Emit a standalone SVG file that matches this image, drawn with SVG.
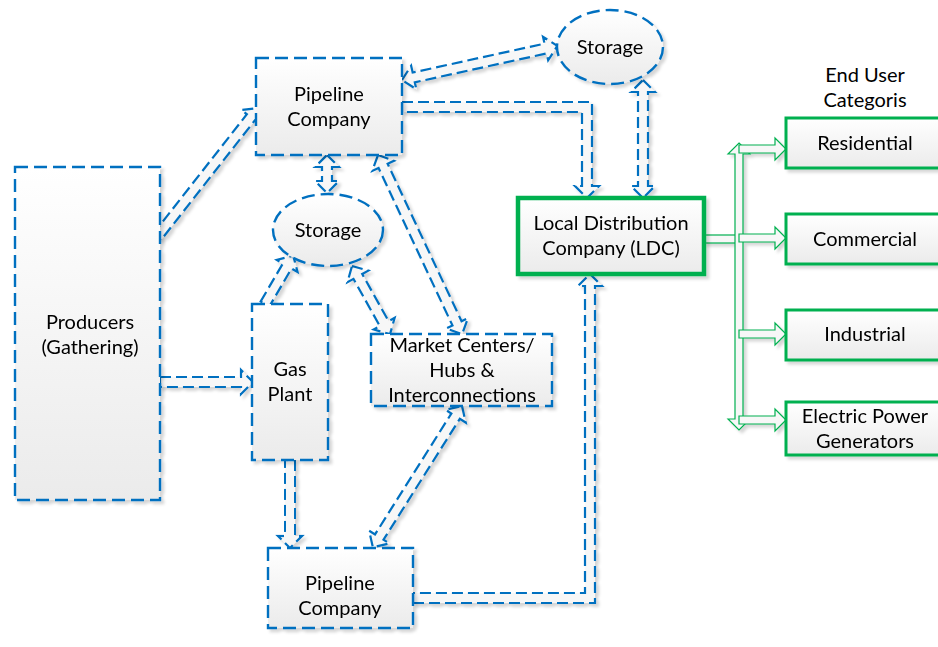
<svg xmlns="http://www.w3.org/2000/svg" width="938" height="647" viewBox="0 0 938 647">
<defs>
<linearGradient id="g" x1="0" y1="0" x2="0" y2="1">
<stop offset="0" stop-color="#ffffff"/>
<stop offset="1" stop-color="#ebebeb"/>
</linearGradient>
<filter id="sh" x="-10%" y="-10%" width="130%" height="130%">
<feDropShadow dx="3" dy="3" stdDeviation="1.5" flood-color="#000" flood-opacity="0.16"/>
</filter>
<style>
.n{fill:url(#g);stroke:#0070c0;stroke-width:2.4;stroke-dasharray:13 6;}
.gn{fill:url(#g);stroke:#00b050;stroke-width:3;}
.ldc{fill:url(#g);stroke:#00b050;stroke-width:4.5;}
.a{fill:#f7f7f7;stroke:#0070c0;stroke-width:2.2;stroke-dasharray:11 5;stroke-linejoin:miter;}
.ga{fill:#f7f7f7;stroke:#00b050;stroke-width:1.2;}
text{font-family:Lato,"Open Sans","Liberation Sans",sans-serif;font-size:20px;fill:#000;text-anchor:middle;}
</style>
</defs>
<rect width="938" height="647" fill="#ffffff"/>

<g id="connectors" filter="url(#sh)">
<polygon class="a" transform="translate(157,237) rotate(-51.9)" points="0,-5 152,-5 152,-12 164,0 152,12 152,5 0,5"/>
<polygon class="a" transform="translate(160,382)" points="0,-5 81,-5 81,-12 93,0 81,12 81,5 0,5"/>
<polygon class="a" transform="translate(402,80) rotate(-12.37)" points="0,0 12,-12 12,-5 147,-5 147,-12 159,0 147,12 147,5 12,5 12,12"/>
<polygon class="a" points="402,102 592,102 592,186 599,186 587,198 575,186 582,186 582,112 402,112"/>
<polygon class="a" transform="translate(643,80) rotate(90)" points="0,0 12,-12 12,-5 106,-5 106,-12 118,0 106,12 106,5 12,5 12,12"/>
<polygon class="a" transform="translate(327,155) rotate(90)" points="0,0 12,-12 12,-5 26,-5 26,-12 38,0 26,12 26,5 12,5 12,12"/>
<polygon class="a" transform="translate(378,155) rotate(64.86)" points="0,0 12,-12 12,-5 186,-5 186,-12 198,0 186,12 186,5 12,5 12,12"/>
<polygon class="a" transform="translate(352,266) rotate(60.8)" points="0,0 12,-12 12,-5 66,-5 66,-12 78,0 66,12 66,5 12,5 12,12"/>
<polygon class="a" transform="translate(265,304) rotate(-59.7)" points="0,-5 44,-5 44,-12 56,0 44,12 44,5 0,5"/>
<polygon class="a" transform="translate(290,460) rotate(90)" points="0,-5 76,-5 76,-12 88,0 76,12 76,5 0,5"/>
<polygon class="a" transform="translate(462,406) rotate(122.26)" points="0,0 12,-12 12,-5 155,-5 155,-12 167,0 155,12 155,5 12,5 12,12"/>
<polygon class="a" points="413,603 595,603 595,286 602,286 590,274 578,286 585,286 585,593 413,593"/>
<rect class="ga" x="704" y="235" width="35" height="8"/>
<polygon class="ga" points="739,143 750,154 743,154 743,419 750,419 739,430 728,419 735,419 735,154 728,154"/>
<polygon class="ga" points="739,145 775,145 775,138 786,149 775,160 775,153 739,153"/>
<polygon class="ga" points="739,234 775,234 775,227 786,238 775,249 775,242 739,242"/>
<polygon class="ga" points="739,330 775,330 775,323 786,334 775,345 775,338 739,338"/>
<polygon class="ga" points="739,416 775,416 775,409 786,420 775,431 775,424 739,424"/>
</g>

<g id="producers" filter="url(#sh)"><rect class="n" x="15" y="167" width="145" height="333"/><text x="90" y="329">Producers</text><text x="90" y="354">(Gathering)</text></g>
<g id="pipeline-top" filter="url(#sh)"><rect class="n" x="256" y="58" width="146" height="97"/><text x="329" y="101">Pipeline</text><text x="329" y="126">Company</text></g>
<g id="storage-top" filter="url(#sh)"><ellipse class="n" cx="610" cy="47" rx="53" ry="37"/><text x="610" y="54">Storage</text></g>
<g id="storage-mid" filter="url(#sh)"><ellipse class="n" cx="328" cy="230" rx="55" ry="36"/><text x="328" y="237">Storage</text></g>
<g id="gas-plant" filter="url(#sh)"><rect class="n" x="252" y="304" width="76" height="156"/><text x="290" y="376">Gas</text><text x="290" y="401">Plant</text></g>
<g id="market-centers" filter="url(#sh)"><rect class="n" x="371" y="334" width="181" height="72"/><text x="462" y="352">Market Centers/</text><text x="462" y="377">Hubs &amp;</text><text x="462" y="402">Interconnections</text></g>
<g id="pipeline-bottom" filter="url(#sh)"><rect class="n" x="268" y="548" width="145" height="80"/><text x="340" y="590">Pipeline</text><text x="340" y="615">Company</text></g>
<g id="ldc" filter="url(#sh)"><rect class="ldc" x="518" y="198" width="186" height="76"/><text x="611" y="230">Local Distribution</text><text x="611" y="255">Company (LDC)</text></g>
<g id="end-user-label"><text x="865" y="82">End User</text><text x="865" y="107">Categoris</text></g>
<g id="residential" filter="url(#sh)"><rect class="gn" x="786" y="118" width="160" height="50"/><text x="865" y="150">Residential</text></g>
<g id="commercial" filter="url(#sh)"><rect class="gn" x="786" y="214" width="160" height="50"/><text x="865" y="246">Commercial</text></g>
<g id="industrial" filter="url(#sh)"><rect class="gn" x="786" y="310" width="160" height="50"/><text x="865" y="341">Industrial</text></g>
<g id="electric" filter="url(#sh)"><rect class="gn" x="786" y="402" width="160" height="53"/><text x="865" y="423">Electric Power</text><text x="865" y="448">Generators</text></g>
</svg>
